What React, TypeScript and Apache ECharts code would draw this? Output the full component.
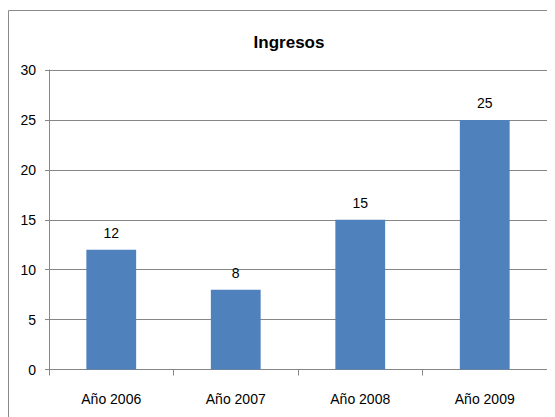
import React, { useEffect, useRef } from "react";
import * as echarts from "echarts";

const categories = ["Año 2006", "Año 2007", "Año 2008", "Año 2009"];
const ingresos = [12, 8, 15, 25];
const yTicks = [0, 5, 10, 15, 20, 25, 30];
const titleText = "Ingresos";

const FONT = "'Liberation Sans', Arial, sans-serif";

export default function App() {
  const ref = useRef<HTMLDivElement>(null);
  useEffect(() => {
    if (!ref.current) return;
    const chart = echarts.init(ref.current, undefined, { renderer: "svg" });
    chart.setOption({
      animation: false,
      backgroundColor: "#ffffff",
      title: {
        text: titleText,
        left: 276,
        textAlign: "center",
        top: 21,
        textStyle: { fontFamily: FONT, fontSize: 17, fontWeight: "bold", color: "#000" },
      },
      graphic: [
        {
          type: "rect",
          shape: { x: 0.5, y: 2.5, width: 1000, height: 1000 },
          style: { fill: "none", stroke: "#8a8a8a", lineWidth: 1 },
          silent: true,
          z: -1,
        },
      ],
      grid: { left: 41, right: 8, top: 62, bottom: 47.5, containLabel: false },
      xAxis: {
        type: "category",
        data: categories,
        axisLine: { lineStyle: { color: "#868686", width: 1 } },
        axisTick: { show: true, length: 6, alignWithLabel: false, lineStyle: { color: "#868686" } },
        axisLabel: { fontFamily: FONT, fontSize: 14, color: "#000", margin: 22 },
      },
      yAxis: {
        type: "value",
        min: yTicks[0],
        max: yTicks[yTicks.length - 1],
        interval: 5,
        axisLine: { show: true, lineStyle: { color: "#868686", width: 1 } },
        axisTick: { show: true, length: 4, lineStyle: { color: "#868686" } },
        splitLine: { lineStyle: { color: "#868686", width: 1 } },
        axisLabel: { fontFamily: FONT, fontSize: 14, color: "#000", margin: 13 },
      },
      series: [
        {
          type: "bar",
          data: ingresos,
          barWidth: "40%",
          itemStyle: { color: "#4f81bd" },
          label: {
            show: true,
            position: "top",
            distance: 10,
            fontFamily: FONT,
            fontSize: 14,
            color: "#000",
          },
        },
      ],
    });
    return () => chart.dispose();
  }, []);
  return <div ref={ref} style={{ width: 547, height: 409 }} />;
}
